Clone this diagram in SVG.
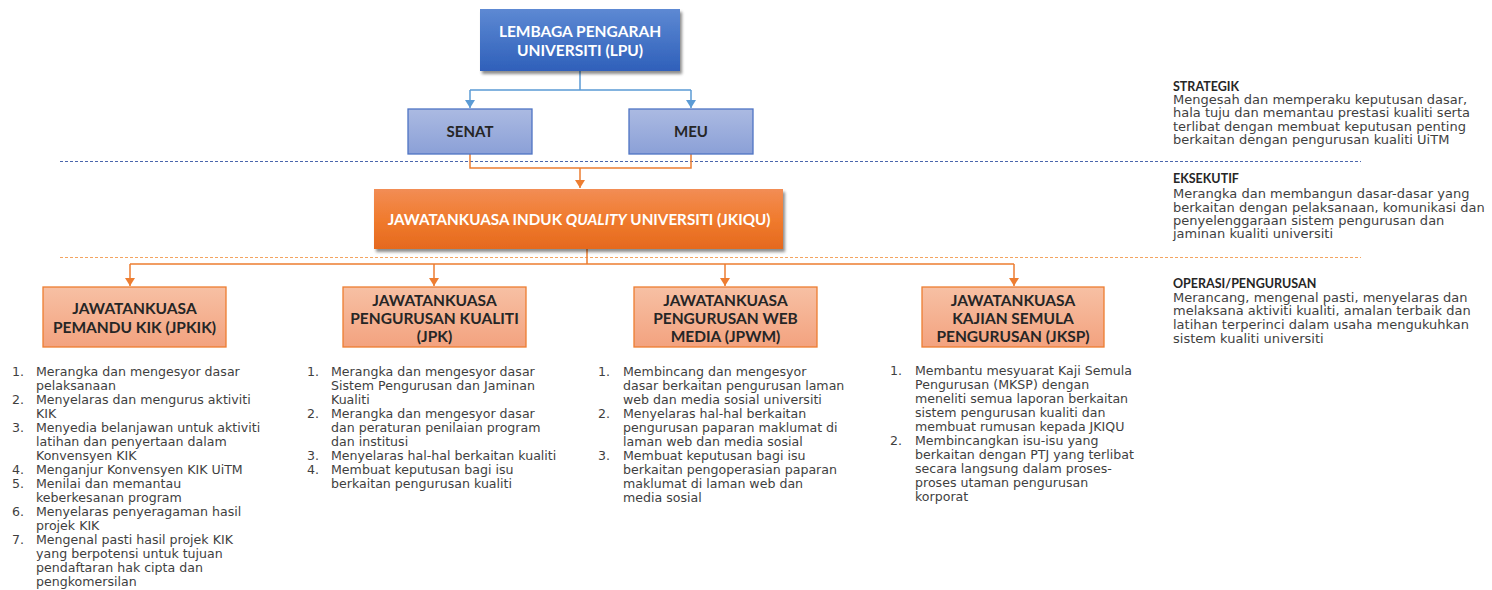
<svg xmlns="http://www.w3.org/2000/svg" width="1492" height="590" viewBox="0 0 1492 590">
<defs>
<linearGradient id="gBlue" x1="0" y1="0" x2="0" y2="1"><stop offset="0" stop-color="#5d89d3"/><stop offset="1" stop-color="#2f60ba"/></linearGradient>
<linearGradient id="gLight" x1="0" y1="0" x2="0" y2="1"><stop offset="0" stop-color="#abbae2"/><stop offset="1" stop-color="#8ba0d7"/></linearGradient>
<linearGradient id="gOrange" x1="0" y1="0" x2="0" y2="1"><stop offset="0" stop-color="#f28d55"/><stop offset="0.5" stop-color="#f07b2e"/><stop offset="1" stop-color="#e5691e"/></linearGradient>
<linearGradient id="gPeach" x1="0" y1="0" x2="0" y2="1"><stop offset="0" stop-color="#f7c0a4"/><stop offset="1" stop-color="#f3a27f"/></linearGradient>
<filter id="shadow" x="-10%" y="-20%" width="125%" height="150%"><feDropShadow dx="2" dy="3" stdDeviation="1.5" flood-color="#000" flood-opacity="0.45"/></filter>
<marker id="arB" markerWidth="10" markerHeight="10" refX="5" refY="8" markerUnits="userSpaceOnUse" viewBox="0 0 10 10"><path d="M0,0 L10,0 L5,8 z" fill="#5b9bd5"/></marker>
<marker id="arO" markerWidth="10" markerHeight="10" refX="5" refY="8" markerUnits="userSpaceOnUse" viewBox="0 0 10 10"><path d="M0,0 L10,0 L5,8 z" fill="#ed7d31"/></marker>
</defs>
<style>
.hd{font-family:Lato,"Liberation Sans",sans-serif;font-weight:bold;text-anchor:middle}
.wh{fill:#ffffff;font-size:15.5px}
.dk{fill:#262626;font-size:15.5px}
.bd{font-family:"DejaVu Sans","Liberation Sans",sans-serif;font-size:12.6px;fill:#3f3f3f}
.rt{font-family:"DejaVu Sans","Liberation Sans",sans-serif;font-size:13px;fill:#3f3f3f}
.rh{font-family:Lato,"Liberation Sans",sans-serif;font-size:12.5px;font-weight:bold;fill:#262626}
.cb{fill:none;stroke:#5b9bd5;stroke-width:1.5}
.co{fill:none;stroke:#ed7d31;stroke-width:1.5}
.dashB{stroke:#4a66ac;stroke-width:1;stroke-dasharray:3 2;fill:none}
.dashO{stroke:#f4a460;stroke-width:1;stroke-dasharray:3 2;fill:none}
.peach{fill:url(#gPeach);stroke:#ed7d31;stroke-width:1.3}
.light{fill:url(#gLight);stroke:#4f74c4;stroke-width:1.3}
</style>

<g id="dividers">
<line class="dashB" x1="60" y1="161.5" x2="1361" y2="161.5"/>
<line class="dashO" x1="60" y1="257.5" x2="1361" y2="257.5"/>
</g>

<g id="connectors">
<path class="cb" d="M580,71 V90 M470,90 H691"/>
<path class="cb" d="M470,90 V108" marker-end="url(#arB)"/>
<path class="cb" d="M691,90 V108" marker-end="url(#arB)"/>
<path class="co" d="M470,154 V168 H691 V154"/>
<path class="co" d="M580,168 V188" marker-end="url(#arO)"/>
<path class="co" d="M587,249 V264 M130,264 H1014"/>
<path class="co" d="M130,264 V286" marker-end="url(#arO)"/>
<path class="co" d="M434,264 V286" marker-end="url(#arO)"/>
<path class="co" d="M725,264 V286" marker-end="url(#arO)"/>
<path class="co" d="M1014,264 V286" marker-end="url(#arO)"/>
</g>

<g id="lpu">
<rect x="480" y="9" width="200" height="62" fill="url(#gBlue)" filter="url(#shadow)"/>
<text class="hd wh" x="580" y="37">LEMBAGA PENGARAH</text>
<text class="hd wh" x="580" y="56">UNIVERSITI (LPU)</text>
</g>

<g id="senat">
<rect class="light" x="408" y="109" width="124" height="45"/>
<text class="hd dk" x="470" y="137" style="font-size:15px">SENAT</text>
</g>

<g id="meu">
<rect class="light" x="629" y="109" width="124" height="45"/>
<text class="hd dk" x="691" y="137" style="font-size:15px">MEU</text>
</g>

<g id="jkiqu">
<rect x="374" y="189" width="409" height="60" fill="url(#gOrange)" filter="url(#shadow)"/>
<text class="hd wh" x="579" y="225" style="font-size:15.2px">JAWATANKUASA INDUK <tspan font-style="italic">QUALITY</tspan> UNIVERSITI (JKIQU)</text>
</g>

<g id="jpkik">
<rect class="peach" x="43" y="287" width="183" height="60"/>
<text class="hd dk" x="134.5" y="314">JAWATANKUASA</text>
<text class="hd dk" x="134.5" y="333">PEMANDU KIK (JPKIK)</text>
<g class="bd">
<text x="12" y="376">1.</text><text x="36" y="376">Merangka dan mengesyor dasar</text>
<text x="36" y="390">pelaksanaan</text>
<text x="12" y="404">2.</text><text x="36" y="404">Menyelaras dan mengurus aktiviti</text>
<text x="36" y="418">KIK</text>
<text x="12" y="432">3.</text><text x="36" y="432">Menyedia belanjawan untuk aktiviti</text>
<text x="36" y="446">latihan dan penyertaan dalam</text>
<text x="36" y="460">Konvensyen KIK</text>
<text x="12" y="474">4.</text><text x="36" y="474">Menganjur Konvensyen KIK UiTM</text>
<text x="12" y="488">5.</text><text x="36" y="488">Menilai dan memantau</text>
<text x="36" y="502">keberkesanan program</text>
<text x="12" y="516">6.</text><text x="36" y="516">Menyelaras penyeragaman hasil</text>
<text x="36" y="530">projek KIK</text>
<text x="12" y="544">7.</text><text x="36" y="544">Mengenal pasti hasil projek KIK</text>
<text x="36" y="558">yang berpotensi untuk tujuan</text>
<text x="36" y="572">pendaftaran hak cipta dan</text>
<text x="36" y="586">pengkomersilan</text>
</g>
</g>

<g id="jpk">
<rect class="peach" x="343" y="287" width="183" height="60"/>
<text class="hd dk" x="434.5" y="306">JAWATANKUASA</text>
<text class="hd dk" x="434.5" y="324">PENGURUSAN KUALITI</text>
<text class="hd dk" x="434.5" y="342">(JPK)</text>
<g class="bd">
<text x="307" y="376">1.</text><text x="331" y="376">Merangka dan mengesyor dasar</text>
<text x="331" y="390">Sistem Pengurusan dan Jaminan</text>
<text x="331" y="404">Kualiti</text>
<text x="307" y="418">2.</text><text x="331" y="418">Merangka dan mengesyor dasar</text>
<text x="331" y="432">dan peraturan penilaian program</text>
<text x="331" y="446">dan institusi</text>
<text x="307" y="460">3.</text><text x="331" y="460">Menyelaras hal-hal berkaitan kualiti</text>
<text x="307" y="474">4.</text><text x="331" y="474">Membuat keputusan bagi isu</text>
<text x="331" y="488">berkaitan pengurusan kualiti</text>
</g>
</g>

<g id="jpwm">
<rect class="peach" x="634" y="287" width="183" height="60"/>
<text class="hd dk" x="725.5" y="306">JAWATANKUASA</text>
<text class="hd dk" x="725.5" y="324">PENGURUSAN WEB</text>
<text class="hd dk" x="725.5" y="342">MEDIA (JPWM)</text>
<g class="bd">
<text x="598" y="376">1.</text><text x="623" y="376">Membincang dan mengesyor</text>
<text x="623" y="390">dasar berkaitan pengurusan laman</text>
<text x="623" y="404">web dan media sosial universiti</text>
<text x="598" y="418">2.</text><text x="623" y="418">Menyelaras hal-hal berkaitan</text>
<text x="623" y="432">pengurusan paparan maklumat di</text>
<text x="623" y="446">laman web dan media sosial</text>
<text x="598" y="460">3.</text><text x="623" y="460">Membuat keputusan bagi isu</text>
<text x="623" y="474">berkaitan pengoperasian paparan</text>
<text x="623" y="488">maklumat di laman web dan</text>
<text x="623" y="502">media sosial</text>
</g>
</g>

<g id="jksp">
<rect class="peach" x="922" y="287" width="182" height="60"/>
<text class="hd dk" x="1013" y="306">JAWATANKUASA</text>
<text class="hd dk" x="1013" y="324">KAJIAN SEMULA</text>
<text class="hd dk" x="1013" y="342">PENGURUSAN (JKSP)</text>
<g class="bd">
<text x="890" y="375">1.</text><text x="915" y="375">Membantu mesyuarat Kaji Semula</text>
<text x="915" y="389">Pengurusan (MKSP) dengan</text>
<text x="915" y="403">meneliti semua laporan berkaitan</text>
<text x="915" y="417">sistem pengurusan kualiti dan</text>
<text x="915" y="431">membuat rumusan kepada JKIQU</text>
<text x="890" y="445">2.</text><text x="915" y="445">Membincangkan isu-isu yang</text>
<text x="915" y="459">berkaitan dengan PTJ yang terlibat</text>
<text x="915" y="473">secara langsung dalam proses-</text>
<text x="915" y="487">proses utaman pengurusan</text>
<text x="915" y="501">korporat</text>
</g>
</g>

<g id="legend">
<text class="rh" x="1173" y="91">STRATEGIK</text>
<text class="rt" x="1173" y="104">Mengesah dan memperaku keputusan dasar,</text>
<text class="rt" x="1173" y="117">hala tuju dan memantau prestasi kualiti serta</text>
<text class="rt" x="1173" y="131">terlibat dengan membuat keputusan penting</text>
<text class="rt" x="1173" y="144">berkaitan dengan pengurusan kualiti UiTM</text>
<text class="rh" x="1173" y="183">EKSEKUTIF</text>
<text class="rt" x="1173" y="198">Merangka dan membangun dasar-dasar yang</text>
<text class="rt" x="1173" y="212">berkaitan dengan pelaksanaan, komunikasi dan</text>
<text class="rt" x="1173" y="225">penyelenggaraan sistem pengurusan dan</text>
<text class="rt" x="1173" y="238">jaminan kualiti universiti</text>
<text class="rh" x="1173" y="288">OPERASI/PENGURUSAN</text>
<text class="rt" x="1173" y="302">Merancang, mengenal pasti, menyelaras dan</text>
<text class="rt" x="1173" y="315">melaksana aktiviti kualiti, amalan terbaik dan</text>
<text class="rt" x="1173" y="329">latihan terperinci dalam usaha mengukuhkan</text>
<text class="rt" x="1173" y="343">sistem kualiti universiti</text>
</g>
</svg>
